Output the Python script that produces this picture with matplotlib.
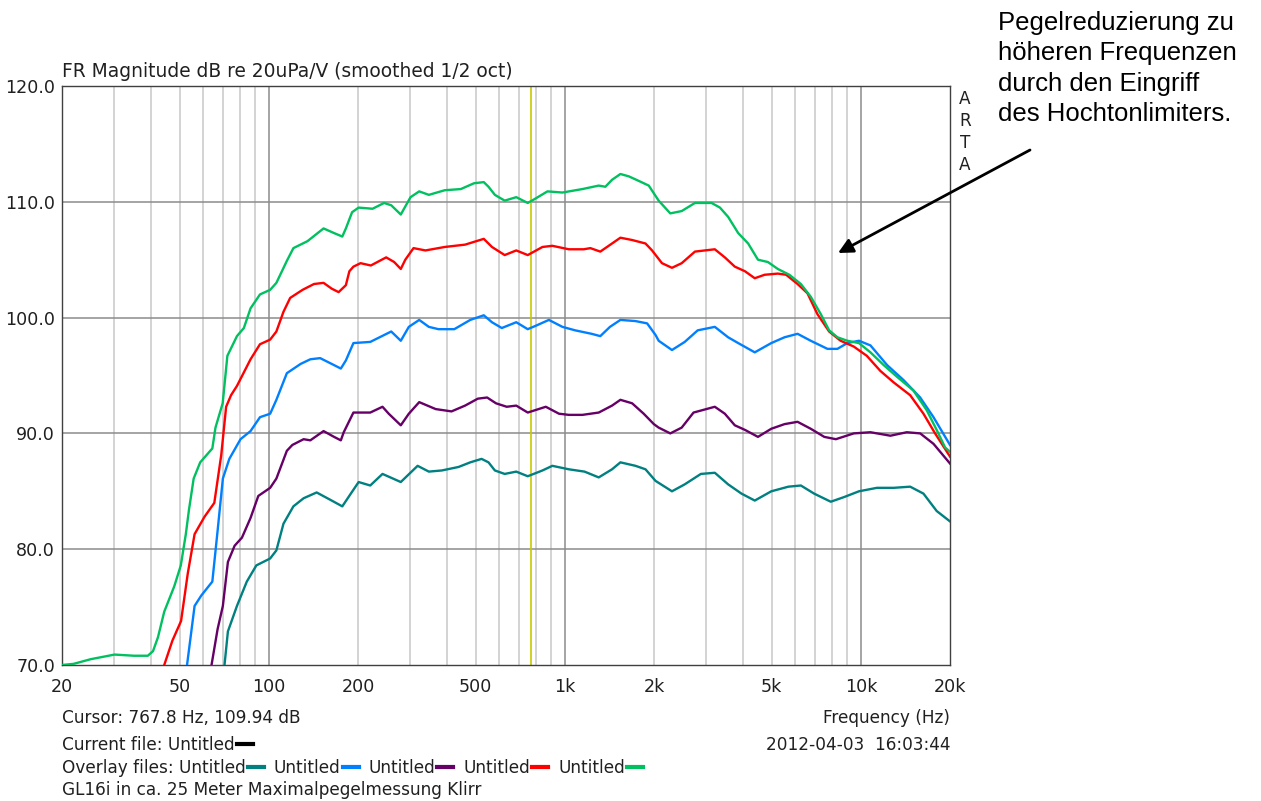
import numpy as np
import matplotlib
matplotlib.use("Agg")
import matplotlib.pyplot as plt
from matplotlib.lines import Line2D

W, H = 1261, 801

# FR magnitude curves (Hz, dB)
teal_f = [70.8, 72.7, 78, 84.2, 90.7, 101, 106, 112, 121, 131, 145, 163, 177, 188, 201, 220, 242, 279,
          318, 347, 384, 437, 479, 523, 552, 580, 626, 685, 749, 840, 907, 1031, 1165, 1301, 1443, 1540,
          1732, 1872, 2024, 2300, 2540, 2880, 3210, 3560, 3950, 4380, 4980, 5690, 6270, 6950, 7910, 8770,
          9850, 11330, 12910, 14670, 16270, 18030, 20000]
teal_db = [70.0, 72.9, 75.1, 77.2, 78.6, 79.2, 79.9, 82.2, 83.7, 84.4, 84.9, 84.2, 83.7, 84.7, 85.8, 85.5,
           86.5, 85.8, 87.2, 86.7, 86.8, 87.1, 87.5, 87.8, 87.5, 86.8, 86.5, 86.7, 86.3, 86.8, 87.2, 86.9,
           86.7, 86.2, 86.9, 87.5, 87.2, 86.9, 85.9, 85.0, 85.6, 86.5, 86.6, 85.6, 84.8, 84.2, 85.0, 85.4,
           85.5, 84.8, 84.1, 84.5, 85.0, 85.3, 85.3, 85.4, 84.8, 83.3, 82.4]

blue_f = [52.9, 56.1, 59.1, 64.4, 67.1, 69.9, 73.5, 80.2, 86.7, 93.3, 101, 106, 115, 128, 138, 149, 163,
          175, 182, 193, 220, 259, 279, 297, 322, 347, 374, 423, 479, 532, 567, 612, 685, 749, 798, 883,
          981, 1083, 1231, 1317, 1420, 1540, 1732, 1896, 2024, 2074, 2300, 2540, 2810, 3210, 3560, 3850,
          4380, 4980, 5520, 6110, 6770, 7710, 8330, 9000, 9850, 10770, 12260, 13940, 15860, 17590, 20000]
blue_db = [70.0, 75.1, 76.0, 77.2, 81.6, 86.1, 87.8, 89.5, 90.2, 91.4, 91.7, 92.9, 95.2, 96.0, 96.4, 96.5,
           96.0, 95.6, 96.3, 97.8, 97.9, 98.8, 98.0, 99.2, 99.8, 99.2, 99.0, 99.0, 99.8, 100.2, 99.6, 99.1,
           99.6, 99.0, 99.3, 99.8, 99.2, 98.9, 98.6, 98.4, 99.2, 99.8, 99.7, 99.5, 98.5, 98.0, 97.2, 97.9,
           98.9, 99.2, 98.3, 97.8, 97.0, 97.8, 98.3, 98.6, 98.0, 97.3, 97.3, 97.8, 98.0, 97.6, 95.9, 94.6,
           93.1, 91.4, 89.0]

purple_f = [64, 67.1, 69.9, 72.7, 76.6, 81.1, 86.7, 92.1, 101, 106, 115, 120, 131, 138, 153, 166, 175,
            179, 193, 220, 242, 254, 279, 297, 322, 366, 414, 460, 508, 546, 585, 636, 685, 749, 862, 955,
            1031, 1146, 1301, 1443, 1540, 1687, 1846, 1998, 2074, 2270, 2481, 2720, 3210, 3470, 3750, 4060,
            4490, 4980, 5520, 6110, 6770, 7520, 8230, 9460, 10770, 12580, 14290, 15860, 17590, 20000]
purple_db = [70.0, 73.1, 75.1, 78.9, 80.3, 81.0, 82.7, 84.6, 85.3, 86.1, 88.5, 89.0, 89.5, 89.4, 90.2,
             89.7, 89.4, 90.1, 91.8, 91.8, 92.3, 91.7, 90.7, 91.7, 92.7, 92.1, 91.9, 92.4, 93.0, 93.1, 92.6,
             92.3, 92.4, 91.8, 92.3, 91.7, 91.6, 91.6, 91.8, 92.4, 92.9, 92.6, 91.7, 90.8, 90.5, 90.0, 90.5,
             91.8, 92.3, 91.7, 90.7, 90.3, 89.7, 90.4, 90.8, 91.0, 90.4, 89.7, 89.5, 90.0, 90.1, 89.8, 90.1,
             90.0, 89.1, 87.4]

red_f = [44.3, 47.2, 50.5, 53.2, 56.1, 60.6, 65.4, 69, 71.7, 74.5, 78, 86.7, 93.3, 101, 106, 112, 118,
         130, 142, 153, 163, 172, 182, 187, 193, 204, 221, 249, 265, 279, 289, 308, 338, 393, 460, 532, 567,
         626, 685, 749, 840, 907, 1031, 1158, 1219, 1317, 1443, 1540, 1687, 1872, 1970, 2128, 2300, 2481,
         2750, 3210, 3470, 3750, 4060, 4380, 4730, 5240, 5590, 6110, 6600, 7130, 7810, 8540, 9460, 10470,
         11630, 12910, 14670, 16270, 17810, 20000]
red_db = [70.0, 72.1, 73.8, 77.9, 81.3, 82.8, 84.0, 88.1, 92.3, 93.3, 94.1, 96.4, 97.7, 98.1, 98.8, 100.5,
          101.7, 102.4, 102.9, 103.0, 102.5, 102.2, 102.8, 104.0, 104.4, 104.7, 104.5, 105.2, 104.8, 104.2,
          105.0, 106.0, 105.8, 106.1, 106.3, 106.8, 106.1, 105.4, 105.8, 105.4, 106.1, 106.2, 105.9, 105.9,
          106.0, 105.7, 106.4, 106.9, 106.7, 106.4, 105.8, 104.7, 104.3, 104.7, 105.7, 105.9, 105.2, 104.4,
          104.0, 103.4, 103.7, 103.8, 103.7, 102.9, 102.1, 100.3, 98.8, 98.0, 97.5, 96.7, 95.4, 94.4, 93.3,
          91.7, 90.0, 88.0]

green_f = [20, 21.9, 25, 30.1, 35, 39, 40.6, 42.2, 44.3, 47.9, 50.4, 52.4, 53.7, 55.7, 58.6, 64.4, 66,
           69.8, 72.4, 78, 82.3, 86.7, 93.3, 101, 106, 115, 121, 135, 153, 166, 177, 182, 191, 201, 224,
           245, 259, 279, 289, 301, 322, 347, 393, 445, 493, 532, 552, 580, 626, 685, 749, 798, 873, 981,
           1146, 1301, 1370, 1443, 1540, 1643, 1778, 1920, 2074, 2270, 2481, 2750, 3130, 3340, 3560, 3850,
           4160, 4490, 4850, 5240, 5730, 6270, 6770, 7320, 7810, 8330, 9000, 9850, 10770, 11940, 13230,
           15050, 16690, 18030, 19240, 20000]
green_db = [70.0, 70.1, 70.5, 70.9, 70.8, 70.8, 71.2, 72.4, 74.6, 76.8, 78.6, 81.3, 83.4, 86.1, 87.5, 88.7,
            90.5, 92.6, 96.7, 98.4, 99.1, 100.8, 102.0, 102.4, 103.0, 104.9, 106.0, 106.6, 107.7, 107.3,
            107.0, 107.7, 109.1, 109.5, 109.4, 109.9, 109.7, 108.9, 109.6, 110.4, 110.9, 110.6, 111.0, 111.1,
            111.6, 111.7, 111.3, 110.6, 110.1, 110.4, 109.9, 110.3, 110.9, 110.8, 111.1, 111.4, 111.3, 111.9,
            112.4, 112.2, 111.8, 111.4, 110.1, 109.0, 109.2, 109.9, 109.9, 109.5, 108.7, 107.3, 106.4, 105.0,
            104.8, 104.2, 103.7, 102.9, 101.8, 100.3, 98.9, 98.3, 98.0, 97.8, 97.0, 95.9, 94.9, 93.7, 92.0,
            90.3, 88.8, 88.4]

series = [(teal_f, teal_db, "#008080"),
          (blue_f, blue_db, "#0080FF"),
          (purple_f, purple_db, "#660066"),
          (red_f, red_db, "#FF0000"),
          (green_f, green_db, "#00C060")]

xticks = [20, 50, 100, 200, 500, 1000, 2000, 5000, 10000, 20000]
xtick_labels = ["20", "50", "100", "200", "500", "1k", "2k", "5k", "10k", "20k"]
yticks = [70, 80, 90, 100, 110, 120]
cursor_f, cursor_db = 767.8, 109.94

small = dict(family="DejaVu Sans", fontsize=12.2, color="#202020")

fig = plt.figure(figsize=(W / 100, H / 100), dpi=100)
ax = fig.add_axes([62 / W, 1 - 665 / H, 888 / W, 579 / H])
ax.set_xscale("log")
ax.set_xlim(20, 20000)
ax.set_ylim(70, 120)

# grid like ARTA: light lines on every 1..9, darker on decades
for e in range(1, 5):
    for m in range(1, 10):
        f = m * 10 ** e
        if f <= 20 or f >= 20000:
            continue
        ax.axvline(f, color="#8C8C8C" if m == 1 else "#C8C8C8", lw=1.1, zorder=1)
for y in yticks[1:-1]:
    ax.axhline(y, color="#8C8C8C", lw=1.1, zorder=1)

ax.axvline(cursor_f, color="#C8C800", lw=1.2, zorder=1.5)

for f, db, c in series:
    ax.plot(f, db, color=c, lw=1.7, zorder=3)

ax.set_xticks(xticks)
ax.set_xticklabels(xtick_labels)
ax.set_xticks([], minor=True)
ax.set_yticks(yticks)
ax.set_yticklabels([f"{v:.1f}" for v in yticks])
ax.tick_params(length=0, labelsize=12.6, labelcolor="#202020")
ax.tick_params(axis="x", pad=9)
ax.tick_params(axis="y", pad=5)
for lab in ax.get_xticklabels() + ax.get_yticklabels():
    lab.set_family("DejaVu Sans")
for s in ax.spines.values():
    s.set_color("#404040")
    s.set_linewidth(1.0)


def fx(x):
    return x / W


def fy(y):
    return 1 - y / H


fig.text(fx(62), fy(77), "FR Magnitude dB re 20uPa/V (smoothed 1/2 oct)", va="baseline",
         family="DejaVu Sans", fontsize=13.4, color="#202020")
for i, ch in enumerate("ARTA"):
    fig.text(fx(965), fy(104 + i * 22), ch, ha="center", va="baseline", **small)

fig.text(fx(62), fy(723), f"Cursor: {cursor_f} Hz, {cursor_db} dB", va="baseline", **small)
fig.text(fx(950), fy(723), "Frequency (Hz)", ha="right", va="baseline", **small)
fig.text(fx(950), fy(750), "2012-04-03  16:03:44", ha="right", va="baseline", **small)
fig.text(fx(62), fy(795), "GL16i in ca. 25 Meter Maximalpegelmessung Klirr", va="baseline", **small)

renderer = fig.canvas.get_renderer()


def legend_row(y, parts):
    x = 62
    for txt, col in parts:
        t = fig.text(fx(x), fy(y + 6), txt, va="baseline", **small)
        x = t.get_window_extent(renderer).x1 + 2
        fig.add_artist(Line2D([fx(x), fx(x + 16)], [fy(y), fy(y)], color=col, lw=3,
                              transform=fig.transFigure))
        x += 26


legend_row(744, [("Current file: Untitled", "black")])
legend_row(767, [("Overlay files: Untitled", "#008080"), ("Untitled", "#0080FF"),
                 ("Untitled", "#660066"), ("Untitled", "#FF0000"), ("Untitled", "#00C060")])

fig.text(fx(998), fy(11), "Pegelreduzierung zu\nhöheren Frequenzen\ndurch den Eingriff\ndes Hochtonlimiters.",
         family="Liberation Sans", fontsize=18.5, va="top", ha="left", linespacing=1.33, color="black")
ax.annotate("", xy=(838, H - 253), xycoords="figure pixels", xytext=(1030, H - 150),
            textcoords="figure pixels",
            arrowprops=dict(arrowstyle="-|>", color="black", lw=2, mutation_scale=22,
                            shrinkA=0, shrinkB=0))

fig.savefig("out.png", dpi=100)
